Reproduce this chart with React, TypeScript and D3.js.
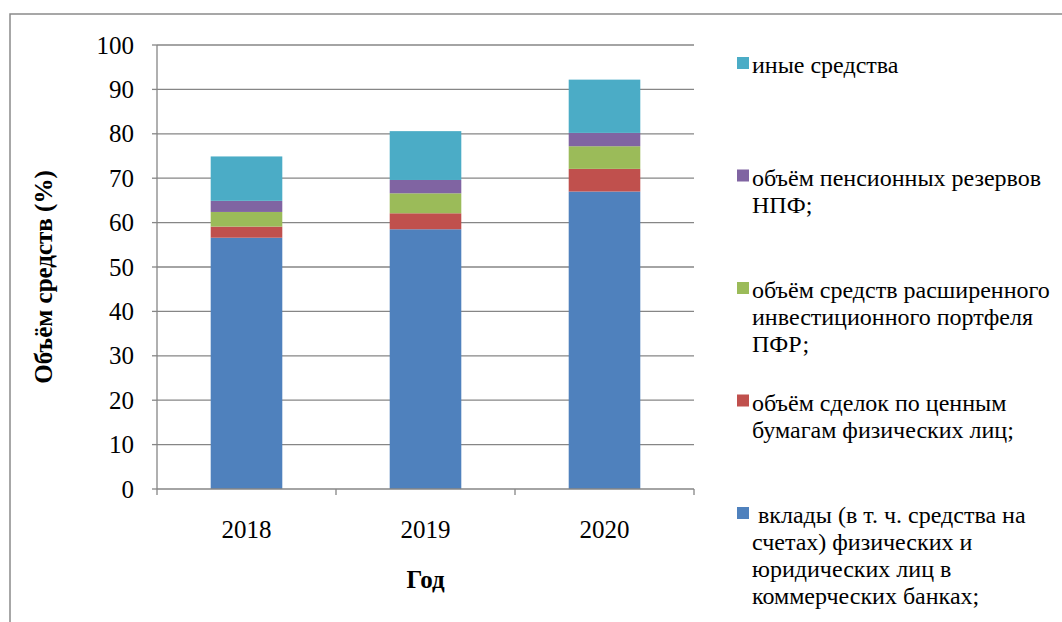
import React from "react";
import * as d3 from "d3";

const years = ["2018", "2019", "2020"];
const deposits = [56.6, 58.5, 67.0];
const securities = [2.5, 3.6, 5.1];
const pfr = [3.3, 4.5, 5.1];
const npf = [2.5, 3.0, 3.0];
const other = [10.0, 11.0, 12.0];
const yTicks = [0, 10, 20, 30, 40, 50, 60, 70, 80, 90, 100];

const seriesNames = [
  [" вклады (в т. ч. средства на", "счетах) физических и", "юридических лиц в", "коммерческих банках;"],
  ["объём сделок по ценным", "бумагам физических лиц;"],
  ["объём средств расширенного", "инвестиционного портфеля", "ПФР;"],
  ["объём пенсионных резервов", "НПФ;"],
  ["иные средства"],
];
const seriesValues = [deposits, securities, pfr, npf, other];
const colors = ["#4F81BD", "#C0504D", "#9BBB59", "#8064A2", "#4BACC6"];

const FONT = "'Liberation Serif', 'Times New Roman', Times, 'DejaVu Serif', serif";

export default function App() {
  const W = 1062, H = 622;
  const left = 157, right = 694, top = 45, bottom = 489;
  const y = d3.scaleLinear().domain([0, 100]).range([bottom, top]);
  const x = d3.scaleBand().domain(years).range([left, right]).paddingInner(0.6).paddingOuter(0.3);
  const step = x.step();

  const rows = years.map((yr, i) => {
    const r: any = { year: yr };
    seriesValues.forEach((s, k) => (r["s" + k] = s[i]));
    return r;
  });
  const stack = d3.stack().keys(seriesValues.map((_, k) => "s" + k))(rows);

  const grid = "#868686";
  const legendOrder = [4, 3, 2, 1, 0];
  const ts = { fontFamily: FONT };

  return (
    <svg width={W} height={H} style={{ position: "absolute", left: 0, top: 0, background: "#fff" }}>
      <rect x={0} y={0} width={W} height={H} fill="#fff" />
      <path d={`M10,${H} L10,14 L${W},14`} fill="none" stroke="#8a8a8a" strokeWidth={1.5} />
      {yTicks.map((t) => (
        <g key={t}>
          {t > 0 && <line x1={left} x2={right} y1={y(t)} y2={y(t)} stroke={grid} strokeWidth={1.3} />}
          <line x1={left - 5} x2={left} y1={y(t)} y2={y(t)} stroke={grid} strokeWidth={1.3} />
          <text x={134} y={y(t)} dy="0.34em" textAnchor="end" fontSize={25} fill="#000" style={ts}>
            {t}
          </text>
        </g>
      ))}
      {stack.map((layer, k) => (
        <g key={k} fill={colors[k]}>
          {layer.map((d, i) => (
            <rect key={i} x={x(years[i])} width={x.bandwidth()} y={y(d[1])} height={y(d[0]) - y(d[1])} />
          ))}
        </g>
      ))}
      <line x1={left} x2={left} y1={top} y2={bottom} stroke={grid} strokeWidth={1.3} />
      <line x1={left} x2={right} y1={bottom} y2={bottom} stroke={grid} strokeWidth={1.3} />
      {[0, 1, 2, 3].map((i) => (
        <line key={i} x1={left + i * step} x2={left + i * step} y1={bottom} y2={bottom + 6} stroke={grid} strokeWidth={1.3} />
      ))}
      {years.map((yr) => (
        <text key={yr} x={(x(yr) as number) + x.bandwidth() / 2} y={538} textAnchor="middle" fontSize={25} fill="#000" style={ts}>
          {yr}
        </text>
      ))}
      <text x={(left + right) / 2} y={588} textAnchor="middle" fontSize={25} fontWeight="bold" fill="#000" style={ts}>
        Год
      </text>
      <text transform={`translate(52,277) rotate(-90)`} textAnchor="middle" fontSize={25} fontWeight="bold" fill="#000" style={ts}>
        Объём средств (%)
      </text>
      {legendOrder.map((k, i) => {
        const sy = 57 + i * 112.5;
        return (
          <g key={k}>
            <rect x={737} y={sy} width={12} height={12} fill={colors[k]} />
            {seriesNames[k].map((ln, j) => (
              <text key={j} x={752} y={sy + 16 + j * 27} fontSize={24} fill="#000" style={{ ...ts, whiteSpace: "pre" }}>
                {ln}
              </text>
            ))}
          </g>
        );
      })}
    </svg>
  );
}
